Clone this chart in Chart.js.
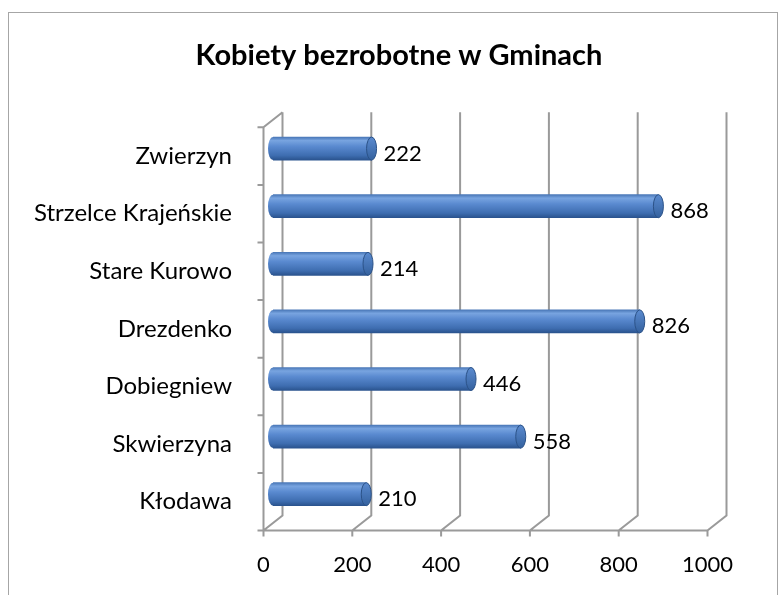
<!DOCTYPE html>
<html>
<head>
<meta charset="utf-8">
<script src="https://cdn.jsdelivr.net/npm/chart.js@4.4.0/dist/chart.umd.min.js"></script>
<style>
  body { margin: 0; background: #fff; }
</style>
</head>
<body>
<canvas id="gminy" width="782" height="595"></canvas>
<script>
var gminy = ['Zwierzyn', 'Strzelce Krajeńskie', 'Stare Kurowo', 'Drezdenko', 'Dobiegniew', 'Skwierzyna', 'Kłodawa'];
var kobiety = [222, 868, 214, 826, 446, 558, 210];
var osX = [0, 200, 400, 600, 800, 1000];

var FONT = 'Lato';
// przesuniecie scian 3D wzgledem srodka glebokosci
var DX = 9.5, DY = 7.5;

// sciany, podloga i linie siatki w perspektywie
var sciany = {
    id: 'sciany',
    beforeDraw: function(chart) {
        var c = chart.ctx;
        c.save();
        c.strokeStyle = '#a6a6a6';
        c.lineWidth = 1;
        c.strokeRect(8.5, 12.5, 769, 620);
        c.restore();
    },
    beforeDatasetsDraw: function(chart) {
        var c = chart.ctx, a = chart.chartArea;
        var x = chart.scales.x, y = chart.scales.y;
        c.save();
        c.strokeStyle = '#9a9a9a';
        c.lineWidth = 2;
        c.beginPath();
        osX.forEach(function(v) {
            var px = x.getPixelForValue(v);
            c.moveTo(px + DX, a.top - DY);
            c.lineTo(px + DX, a.bottom - DY);
            c.lineTo(px - DX, a.bottom + DY);
            c.lineTo(px - DX, a.bottom + DY + 6);
        });
        var x0 = x.getPixelForValue(0), x1 = x.getPixelForValue(1000);
        // podloga
        c.moveTo(x0 - DX, a.bottom + DY);
        c.lineTo(x1 - DX, a.bottom + DY);
        // lewa sciana
        c.moveTo(x0 - DX, a.bottom + DY);
        c.lineTo(x0 - DX, a.top + DY);
        c.lineTo(x0 + DX, a.top - DY);
        // znaczniki kategorii
        var krok = y.getPixelForValue(1) - y.getPixelForValue(0);
        for (var i = 0; i <= gminy.length; i++) {
            var py = (i < gminy.length ? y.getPixelForValue(i) - krok / 2 : a.bottom) + DY;
            c.moveTo(x0 - DX - 6, py);
            c.lineTo(x0 - DX, py);
        }
        c.stroke();

        // tylne polowki walcow
        var meta = chart.getDatasetMeta(0);
        meta.data.forEach(function(bar) {
            var h = bar.height / 2;
            c.fillStyle = walec(c, bar.y, h);
            c.beginPath();
            c.ellipse(bar.base, bar.y, 5, h, 0, Math.PI / 2, Math.PI * 1.5);
            c.fill();
        });
        c.restore();
    },
    afterDatasetsDraw: function(chart) {
        var c = chart.ctx;
        var meta = chart.getDatasetMeta(0);
        c.save();
        meta.data.forEach(function(bar, i) {
            var h = bar.height / 2;
            // denko walca
            var g = c.createLinearGradient(0, bar.y - h, 0, bar.y + h);
            g.addColorStop(0, '#5b8bd0');
            g.addColorStop(1, '#34619e');
            c.fillStyle = g;
            c.strokeStyle = '#2b5288';
            c.lineWidth = 1;
            c.beginPath();
            c.ellipse(bar.x, bar.y, 5, h, 0, 0, Math.PI * 2);
            c.fill();
            c.stroke();
            // etykieta wartosci
            c.fillStyle = '#000';
            c.font = '22px ' + FONT;
            c.textBaseline = 'middle';
            c.textAlign = 'left';
            c.fillText(kobiety[i], bar.x + 12, bar.y + 5);
        });
        c.restore();
    }
};

function walec(c, yc, h) {
    var g = c.createLinearGradient(0, yc - h, 0, yc + h);
    g.addColorStop(0, '#4a78b8');
    g.addColorStop(0.15, '#78a4e0');
    g.addColorStop(0.4, '#5a8ad0');
    g.addColorStop(0.8, '#3e6db0');
    g.addColorStop(1, '#2a538e');
    return g;
}

var ctx = document.getElementById('gminy').getContext('2d');
var wykres = new Chart(ctx, {
    type: 'bar',
    data: {
        labels: gminy,
        datasets: [{
            data: kobiety,
            barThickness: 23,
            borderWidth: 0,
            backgroundColor: function(context) {
                var chart = context.chart;
                if (!chart.chartArea) return '#4f81bd';
                var yc = chart.scales.y.getPixelForValue(context.dataIndex);
                return walec(chart.ctx, yc, 11.5);
            }
        }]
    },
    plugins: [sciany],
    options: {
        indexAxis: 'y',
        responsive: false,
        animation: false,
        // margines z lewej, zeby tytul byl na srodku ramki
        layout: { padding: { left: 16, right: 0, top: 0, bottom: 0 } },
        plugins: {
            legend: { display: false },
            tooltip: { enabled: false },
            title: {
                display: true,
                text: 'Kobiety bezrobotne w Gminach',
                color: '#000',
                font: { family: FONT, size: 29, weight: 'bold', lineHeight: 1.2 },
                padding: { top: 38, bottom: 47 }
            }
        },
        scales: {
            x: {
                min: 0,
                max: 1000,
                grid: { display: false, drawTicks: false },
                border: { display: false },
                ticks: {
                    stepSize: 200,
                    color: '#000',
                    font: { family: FONT, size: 22 },
                    padding: 29,
                    labelOffset: -DX,
                    maxRotation: 0,
                    callback: function(v) { return String(v); }
                },
                afterFit: function(s) { s.height = 72; }
            },
            y: {
                grid: { display: false, drawTicks: false },
                border: { display: false },
                ticks: {
                    color: '#000',
                    font: { family: FONT, size: 24 },
                    padding: 41,
                    labelOffset: DY
                },
                afterFit: function(s) { s.width = 257; }
            },
            // pusta os z prawej - tylko rezerwuje miejsce
            prawa: {
                type: 'category',
                position: 'right',
                grid: { display: false, drawTicks: false },
                border: { display: false },
                ticks: { display: false },
                afterFit: function(s) { s.width = 65; }
            }
        }
    }
});
</script>
</body>
</html>
